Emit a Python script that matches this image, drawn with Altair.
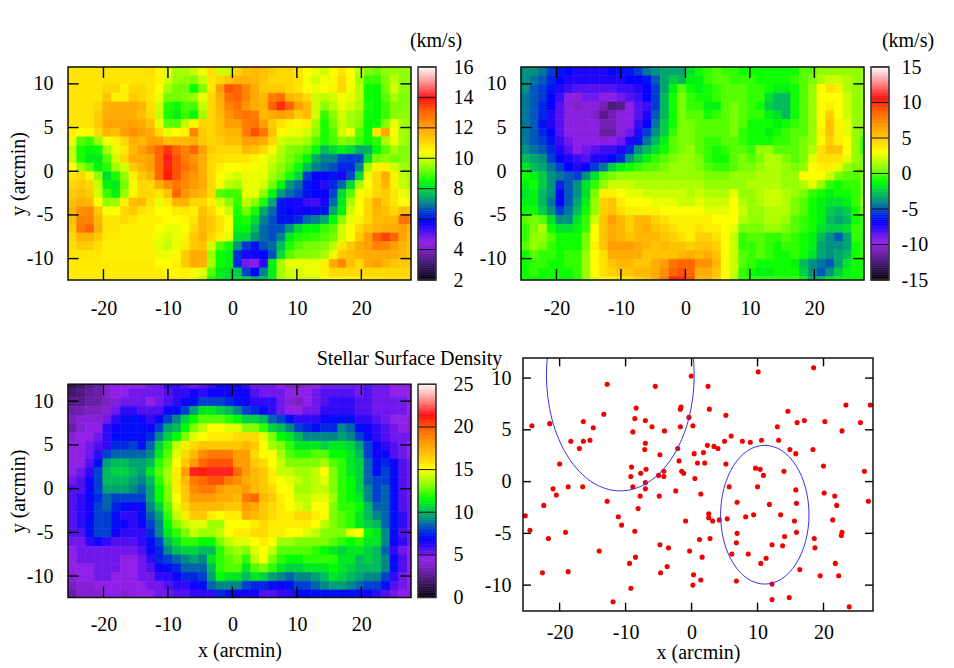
import altair as alt
import numpy as np
import pandas as pd

FONT = "Liberation Serif"
FS = 20

stop_f = [0, .07, .14, .18, .22, .27, .32, .36, .41, .46, .52, .58, .60, .66, .72, .79, .85, .88, .93, 1]
stop_c = ["#0a0410", "#40186a", "#7a20c0", "#9020e8", "#5010f0", "#0000ff", "#0040d0", "#008888", "#00c850",
          "#00ff00", "#80ff00", "#e0ff00", "#ffff00", "#ffc800", "#ff9c00", "#ff6000", "#ff1010", "#ff4040",
          "#ff9898", "#ffffff"]

p1_rows = [
[10.8,10.8,10.8,10.8,10.8,10.8,10.8,10.8,10.8,10.9,10.5,10.2,9.6,9.6,9.9,10.3,10.9,10,9.9,11, 11.4,11.5,11.4,11.2,11,11,10.8,10.4,10.2,10,10.4,10.8,10.4,9.8,9.3,9.1,9.4,9.5,9.4,9.5],
[10.8,10.8,10.8,10.8,10.8,10.8,10.8,10.8,10.8,10.8,10.6,10,9.5,9.4,9.3,9.9,10.8,11,11.3,11.6, 11.6,11.5,11.3,11,11,11,10.9,10.3,10,10.3,10.5,11,10.4,9.6,8.8,8.8,9.3,9.8,9.4,9.4],
[10.8,10.8,10.8,10.8,11,11,10.6,11,11,10.8,10.4,9.6,9.2,9.2,8.5,9.3,10.8,12,13.2,13, 12.4,11.8,11.2,11.2,11.2,11,10.8,10.4,10.2,10.4,10.6,11,10.3,9.8,8.5,8.4,9.2,10,9.4,9.4],
[10.8,10.8,10.8,10.8,11.3,10.6,10.6,11.2,11,10.8,10.2,9.2,9.2,9.3,9.5,10.2,11,11.8,12.8,13, 12.5,11.8,11.5,12.6,12.8,11.6,11.4,11,10,9.8,10,10.3,10.2,9.8,8.5,8.4,9,9.6,9.3,9.3],
[10.8,10.8,10.8,11,11.7,11.8,11.8,11.8,11.6,10.9,10,8.7,8.5,8.9,8.9,9.9,11,11.6,12.5,12.8, 12.2,11.8,11.6,13,13.6,13,12,11.5,10,9.4,9.8,10.2,10,9.7,8.6,8.4,8.8,9.3,9.3,9.4],
[10.8,10.8,10.8,11.2,11.8,11.8,11.8,11.8,11.4,11,9.9,8.6,8.3,8.8,8.4,9.6,11,11.5,12.2,12.6, 12.8,12.6,11.5,11.8,12,11.8,11.2,11.5,10,8.8,9.4,10,9.6,9.4,8.5,8.4,8.8,9.3,9.4,9.4],
[10.8,10.8,10.8,11.2,11.9,11.9,11.9,12,11.8,11.4,10.2,9,9,9.9,10.5,11,11,11.4,12,12, 12.6,12.7,12,11.2,10.8,10.6,10.5,10.6,9.6,8.6,9.2,9.9,9.6,9.3,8.4,8.5,9.3,10.2,9.6,9.4],
[10.6,10.4,10.5,11,11.6,11.4,12,12.3,12,11.8,11,10.2,10.4,10.6,12.5,11.2,11,11.4,11.6,11.6, 12.6,13.2,12.7,11.4,10.5,10.2,10.2,10,9.4,8.6,9,10,10.3,9,8.4,10.8,11.8,10.4,9.6,9.4],
[10.2,9,8.8,9.5,10.3,10.6,11,11.7,11.5,12,12,11.4,11.5,11.5,11.7,11.2,11,11.2,11.4,11.4, 12,12,11.8,11,10,9.8,9.8,9.6,9,8.6,8.9,9.3,9.2,8.8,8.4,8.7,9.6,10.2,9.6,9.4],
[9.8,8.6,8.4,8.5,9.6,10.2,10.8,11.5,12,12.5,13,13.5,13,12.5,13,12,11.2,11,11,11, 11.5,11.4,11,10.5,9.7,9.3,9.2,9,8.5,7.6,8,8.3,8,7.4,7.5,8.4,9,9.6,9.3,9.3],
[9.9,8.6,8.2,8.2,9,10,11,11.8,11.8,12,13,14,13.2,12.6,12.2,11.8,11,10.9,10.8,10.8, 10.8,10.6,10.3,10,9.6,9.2,8.9,8.4,7.4,7,7,6.5,6.4,6.5,8,9.2,9.4,9.2,9.3,9.4],
[10.4,9.5,9,8.3,8.7,9.6,10,11.2,11.6,12,13,13.7,13.2,12.8,12.4,11.8,11,10.6,10.4,10.4, 10.5,10.3,10.2,9.8,9.4,9,8.5,7.6,7,6.8,6.6,6.2,6.2,7,9.6,10.6,10.6,10,9.6,9.4],
[10.8,11,10.6,9.4,8,8.6,9.4,10.6,11.2,11.6,13,13.8,13.2,12.5,12.2,11.8,11,10.4,10.2,10, 10.2,10.2,10.2,9.6,9.2,8.6,7.9,6.4,5.8,5.7,6,5.6,6.5,8,10.2,11,11.8,10.6,9.8,9.6],
[11,11.2,11,9.9,8.3,8.2,9.2,10.3,11,11,11.8,12.3,12.7,12.4,12.1,11.8,11,10.3,9.8,9.6, 10.2,10.2,10,9.2,8.4,7.2,6.8,6,5.7,5.4,6.2,6.8,8,9.6,10.4,11,11.6,10.6,9.9,9.6],
[11.2,11.4,11.2,10,8.8,8.3,9.5,10.5,11,11,10.8,11.4,13,12.2,11.8,11.6,11,9,8.8,8.9, 10.2,10.2,9.4,8.4,7.2,6.8,6.5,6,5.8,5.7,6.5,8,9,10.3,10.6,11,11.2,10.8,10.2,10],
[11.4,11.7,11.5,10.4,9.4,9.5,10.6,11.4,11.5,10.9,10.2,10.8,11.6,11.7,11,11,10.6,10,9.4,8.8, 9.8,9.4,8.6,7.4,6,5.6,5.6,5.3,5.2,5.6,6.8,8.2,9.6,10.4,11,11.8,11.2,10.8,10.4,10.2],
[11.6,12.3,12.4,11.3,10.3,10.4,11,11.2,10.8,10.7,10.4,10.4,10.7,10.8,10.6,11.4,11,10.4,10,8.6, 9.2,8.6,7.4,6.8,6,5.7,5.6,5.7,5.6,6,7.4,8.3,10,10.4,11,11.6,11.4,11,11.4,11.4],
[11.4,12.5,12.5,11.6,10.8,10.8,11,10.8,10.6,10.6,10.6,10.4,10.4,10.5,10.8,11.5,11.2,10.8,10.4,8.5, 8.6,8,7,6.6,6,6,6.2,6.8,7,7.4,8.4,9.4,10.2,10.6,11,11.5,11.5,11.5,12.8,12.6],
[11.2,12.7,13,11.7,10.8,10.8,10.6,10.6,10.6,10.6,10.4,10.2,10.2,10.4,11,11.5,11.2,10.8,10.4,8.3, 8.4,7.6,6.8,6.6,6.6,7.2,8,8.4,8.4,8.8,9,10,10.4,11,11.4,11.6,11.8,11.8,12,11.6],
[11,11.6,11.6,11.2,10.7,10.7,10.6,10.6,10.6,10.6,10.2,10,10.2,10.6,11.2,11.6,11,10.6,10.2,8, 8,7.2,6.8,6.6,7,8.2,8.6,8.7,8.8,9,9.2,10,10.4,11.2,12,13,13.4,13,11.9,11.4],
[10.9,11.2,11.2,10.9,10.6,10.6,10.6,10.6,10.6,10.6,10.1,9.9,10.2,10.7,11.2,11.4,10,9,8.6,7.2, 6.4,6,6.6,6.8,7.6,8.6,9,9.2,9.2,9.3,9.8,10.8,11.2,11.8,12,12.5,12.4,12,11.6,11.4],
[10.8,10.8,10.8,10.8,10.6,10.6,10.6,10.6,10.6,10.6,10.2,10.2,10.5,11.2,11.8,11.8,9.5,8.5,8.3,6.3, 5.6,5.6,5.8,6.6,8,9,9.3,9.3,9.4,9.6,10.2,11.2,11.4,11.6,11.8,11.8,11.8,11.8,11.6,11.4],
[10.7,10.7,10.7,10.7,10.7,10.7,10.7,10.7,10.7,10.7,10.4,10.4,10.6,11.2,11.8,11.7,9.6,8.5,8.3,6.2, 4.8,4.6,5.4,8.3,9.6,10.2,10.2,10.2,10.2,10.6,11.8,12.4,11.4,11,11.8,12,11.6,11.3,11.2,11.2],
[10.7,10.7,10.7,10.7,10.7,10.7,10.7,10.7,10.7,10.7,10.7,10.5,10.5,10.6,10.5,10.2,9,8.2,8.1,7.8, 6.5,5.8,7,8.2,9.6,10,10,10.2,10.2,10.6,11,11,11,11,11,11,11,11,11,11],
[10.7,10.7,10.7,10.7,10.7,10.7,10.7,10.7,10.7,10.7,10.7,10.7,10.6,10.6,10.2,9.8,8.6,8.1,8,8, 7.8,7.4,7.6,8.2,9.6,9.8,10,9.9,9.9,10.3,10.6,10.6,10.7,10.7,10.8,10.8,10.9,10.9,10.9,10.9],
]

p2_rows = [
[-4,-4,-4.5,-5.5,-6.5,-7,-7.5,-7.5,-7.5,-7.5,-7,-6.5,-6.5,-5.5,-4.5,-4,-3.5,-3.5,-3.5,-2, -1,-0.5,0,-0.5,-0.5,-1,-1,-1,-1,-1,-1,-1,0,0,1,1,1,1,1,1],
[-4,-4.5,-5,-6,-7,-7.5,-7.5,-7.5,-7.5,-7.5,-7.5,-7.5,-7,-7,-6.5,-5,-3.5,-2.5,-3,-1.5, -1.5,-0.5,0,0,-0.5,-0.5,-0.5,-1,-1,-1,-1,-0.5,0,0.5,1.5,2,2,1.5,1,1],
[-4,-5,-5.5,-6.5,-7.5,-8,-8.5,-8.5,-8.5,-8.5,-8.5,-8,-8,-7.5,-7,-5.5,-3.5,-1.5,0,-1, -1.5,-1,-0.5,0,0,0,-0.5,-0.5,-1,-1.5,-1.5,-1,0,1,3,4,3.5,1.5,1,1],
[-4.5,-5,-5.5,-7,-8,-9.5,-10,-9,-9,-9.5,-9.5,-9,-8.5,-8,-7,-5.5,-3,-1,0.5,-0.5, -1,-1,-0.5,0,0,0,-0.5,-0.5,-2,-3,-3,-1,0,1,3,3,3,2,1,1],
[-4.5,-5,-6,-7,-8.5,-10,-10.5,-10,-10,-11,-12.5,-12,-9.5,-8.5,-8,-5.5,-3,-1,0.5,-0.5, -0.5,-1.5,-1.5,0,0.5,0,-0.5,-1,-2.5,-3,-3,-1,0,1,3,3.5,3,2,1,1],
[-4.5,-5,-6,-7.5,-8.5,-10,-10,-10,-10.5,-12,-11,-10,-9.5,-8.5,-7.5,-5,-3,-1,0.5,0, 0,-1,-0.5,0,0.5,0,-0.5,-0.5,-1.5,-2,-3,-1,0,1,3,4.5,3,2,1,1],
[-4.5,-5,-6.5,-7.5,-8.5,-10,-10,-10,-10,-11,-11,-10,-9.5,-8,-7,-4.5,-2.5,-1,0.5,0.5, 0,0,0,0,0.5,0,-1,-1,-1,-1.5,-1,-0.5,0,1,3,5,3.5,2.5,1,1],
[-4.5,-5,-6,-7,-8.5,-9.5,-10,-10,-10,-11.5,-11.5,-10,-9,-7.5,-5.5,-4,-2.5,-0.5,0.5,0.5, 0,0,0,0,0.5,-0.5,-1,-1,-1.5,-1,-0.5,0,0,1,3.5,5,3.5,2.5,1,0.5],
[-4.5,-5,-5.5,-6.5,-8,-9,-9.5,-9.5,-9.5,-10,-9.5,-9,-7.5,-6.5,-4.5,-3,-1.5,0,0.5,0.5, 0,-0.5,-0.5,0,0,-0.5,-1,-1,-1,-0.5,-0.5,0,0.5,1,3,4.5,3.5,3,1,-0.5],
[-4,-4.5,-5,-6,-7.5,-8.5,-9.5,-9,-8.5,-8,-8,-7.5,-6,-4,-3,-2,-1,0,0.5,1, 0,-0.5,-1,-0.5,0,0,-0.5,1,1,0,0,0,0.5,1.5,4,5,5,3,1,-0.5],
[-3,-3.5,-4,-5.5,-7,-7.5,-8,-8.5,-7.5,-7.5,-7,-6,-4,-2.5,-1.5,-0.5,0,0.5,1,1, 0.5,-0.5,-1,-1,0,0.5,0,0.5,1.5,1.5,0.5,0,0.5,2.5,4,4,4,2.5,1,0.5],
[-2,-3,-3.5,-4.5,-5.5,-7,-7.5,-7,-5.5,-4.5,-2.5,-1.5,-1,-0.5,0,0,0.5,1,1,1, 0.5,0,-0.5,-0.5,0,0.5,0.5,1,1.5,1.5,1,0.5,1,3,3.5,3.5,2.5,1,0.5,0.5],
[-1,-1.5,-2.5,-4,-4.5,-5,-5.5,-4,-2,0,0.5,1,1,1,1,1,1,1,1,1, 1,0.5,0.5,0.5,1,1,1,1.5,1.5,1.5,1,1,3,3,3,2,0.5,0,0,0.5],
[-1.5,-1,-2.5,-4,-6,-5,-4,-2,-0.5,1,2,2,2,1.5,1.5,1.5,1.5,1.5,1.5,1.5, 1.5,1,1,1,1,1,1.5,1.5,1.5,1.5,1,1,1.5,2.5,1,-0.5,-1,-0.5,-0.5,0.5],
[-2,-1.5,-3,-4,-7,-5,-4,-2,0.5,3.5,3.5,3,2.5,2.5,2,2,2,2,2,1.5, 2,1.5,1.5,1.5,2.5,1,1,1.5,2,2,1.5,1,0.5,-0.5,-1,-1.5,-1,-1,-0.5,0.5],
[-1.5,-1.5,-3,-4.5,-7,-5,-3.5,-1.5,1,4.5,5,3.5,3,3,3,2.5,2.5,2.5,2,2, 2.5,2,2,2,3,1.5,1,1.5,2,2,1.5,0.5,0,-1,-1.5,-2,-2,-1.5,-0.5,1],
[-1,-1,-2.5,-4,-5.5,-4.5,-3,-1,1,4.5,5,4,3.5,3.5,3.5,3.5,3,3,3,3, 3,2.5,2.5,2.5,3,2,1,1,1.5,1.5,1.5,0.5,0,-1,-1.5,-2.5,-3,-2.5,-1,0.5],
[0,0.5,0,-2,-4,-4,-2,-0.5,2,5,6.5,5.5,4.5,5.5,5.5,4.5,4,3.5,3.5,3.5, 3.5,3.5,3,3,3,1.5,1,1,1.5,1.5,1,0,-0.5,-1,-1.5,-3,-3.5,-3,-1,-0.5],
[-0.5,0.5,1.5,-1,-2,-2,-1.5,-0.5,3,5,6,5.5,4.5,5.5,6,5,4.5,4,3.5,3.5, 4,3.5,3.5,3,2.5,0.5,0.5,0.5,1,1,0.5,0,-0.5,-1,-2,-2.5,-2.5,-2,-0.5,-0.5],
[-0.5,1,1,0,-1,-1,-1,0.5,3,5,6,5.5,5,5.5,5.5,5.5,5,4.5,4,3.5, 4.5,4.5,4,3,2,-0.5,0,0,-0.5,-0.5,0,-0.5,-1,-1.5,-3,-4,-5,-3.5,-0.5,-0.5],
[0,1,0.5,-0.5,-1,-1,-1,0.5,3.5,5,6.5,6.5,6.5,6,5.5,5,5.5,5,5,4.5, 5,5,4.5,3,2,-0.5,-0.5,0,-0.5,-1,-0.5,-0.5,-1,-1.5,-3.5,-4,-4,-3.5,-1,-0.5],
[-1,0,-0.5,-0.5,-1,-0.5,-0.5,1,3,4,6,6,6,6,5,5,5,5,5.5,6, 5.5,6,5,3,2,0,-0.5,0,-0.5,-1,-1,-0.5,-1,-2,-3.5,-4,-3.5,-3,-1,-0.5],
[-1,-0.5,-0.5,-1,-1,-0.5,-0.5,1,3,4,5,5.5,5.5,5,5,6,6.5,8,8.5,8.5, 7,7,5.5,3,2,0,-0.5,-1,-1,-1,-1,-1.5,-3,-4,-4.5,-5,-3.5,-2,-1,-1],
[-1,-0.5,-1,-1,-1,-1,-0.5,1,3,4,4.5,5,5,5.5,5.5,6,7,8.5,9,8.5, 6,6,5,3,2,-0.5,-1,-1.5,-1.5,-1,-1,-1,-2.5,-4,-5,-4,-2.5,-1.5,-1,-1],
[-1,-1,-1,-1,-1,-1,-0.5,1,2.5,3.5,3.5,4,4,4.5,5,6,7.5,10,11,9, 5.5,5.5,4.5,3,1.5,-0.5,-0.5,-0.5,-0.5,-0.5,-0.5,-0.5,-1.5,-3.5,-3,-2,-1.5,-1,-1,-1],
]

p3_rows = [
[1.5,1.8,2.5,3,4,4.5,4.5,4.5,4.5,5,5,6,6,5.5,5,5.5,6,6.5,6.5,6.5, 6,5,5,5,4.5,3.5,3.5,4,4.5,5,5,5,5,5,5.5,5,5,4.5,4.5,4.5],
[1.8,2.2,2.8,3,4,4.5,4.5,5,5,5,5,5.5,6,6,6.5,6,6.5,6.5,6.5,6.5, 6.5,5.5,5,5,5,4.5,4.5,4.5,5,5.5,5.5,5.5,5.5,5,5.5,5,5,4.5,4.5,4.5],
[2.5,2.5,3,3,3.5,4,5,5,5,4.5,5,5.5,6,6.5,7,8,8,8,7.5,7, 6.5,6,6,6,5,4,3.5,4.5,5,5.5,6,6,6,5.5,5.5,5,5,5,5,4.5],
[3,3.2,3.5,3.5,4,5,6,6,5.5,5.5,5.5,6.5,7,8,9.5,11,11,10.5,10,9, 8,7.5,6.5,6,5,4.5,4.5,5,5,6,6,6,6,5.5,5.5,5,5,5,5,4.5],
[3.5,4,4,4,5,6,7,7,6.5,6,6.5,8,9,10.5,11.5,12.5,12.5,12.5,12,11.5, 10.5,10.5,10,8.5,8,7,6,6,6,6.5,7,7,7,6,6,5.5,5,4.5,4.5,4],
[3,4,4.5,4.5,6,6.5,7,7,7,6.5,8,9.5,10,11.5,13,14,15,15,14.5,14.5, 13,13,12,10.5,10,9,8,7.5,7,7.5,7.5,9,8.5,7,6.5,6,5.5,5,4.5,4],
[4,4.5,4.5,5,6,7,7,7,7,7.5,9,10.5,11.5,13,14.5,15,15.5,15.5,15.5,16, 16,16,14.5,13,11.5,11,10,9,9,9,9,9.5,9,8,7,6,5.5,5,5,5],
[4.5,4.5,5,5.5,6,7.5,7.5,8,7,8.5,10.5,12,14,15.5,16,16.5,16.5,16.5,16.5,16.5, 17,16.5,15,13.5,13,12,11,11,11,10.5,11,11,10.5,9.5,8,6.5,6,5.5,5,4.5],
[4.5,4.5,5,6,8,8.5,8.5,8.5,8.5,9,11,12.5,14.5,16,17,18.5,19,19,19,18, 18,16,15,15,13.5,12.5,12,12,12.5,12.5,11.5,11.5,11,10,8,6.5,6.5,5.5,5,4.5],
[4.5,4.5,5.5,7,9.5,10,10,9.5,9.5,10,12,13,15,16.5,18,19.5,20,20,20,18, 18,16.5,16,15,14,13,13,13,13,13.5,12.5,12,11,10.5,8.5,7,7.5,6.5,5.5,5],
[4.5,5,6,8,10,10.5,10.5,10,9.5,11,12.5,13.5,15.5,18,21.5,21,21.5,21.5,21.5,19.5, 18,17,16.5,15.5,14,14,13.5,13.5,14,15,13,12,11,10.5,8.5,7,8,7,5.5,5],
[5,5.5,6.5,8,10,10,10,9.5,9,10,12,13.5,15.5,17,19,19.5,20,20,19,18.5, 17.5,17,16.5,15.5,15,14.5,14,13.5,14,14.5,13,12,11.5,10.5,8.5,8,8,7,5.5,5],
[5.5,5.5,6.5,8,9.5,9.5,9.5,9,8.5,9.5,11.5,13,15.5,16.5,18.5,19,19,18,17.5,17.5, 18,17,16.5,16,15,15,13.5,13.5,14,14,13,12,11.5,10.5,9,8,8.5,7,5.5,5],
[5.5,6,6.5,7.5,8.5,8,8,8,8,9.5,11.5,13,15,16.5,18,18,18,17.5,17.5,17, 19,19.5,17,16.5,15.5,15,14,14,14.5,14.5,13.5,12,11.5,11,9,8,8.5,7,5.5,5],
[5.5,6,6.5,8,8.5,7.5,7,6.5,7,9,10.5,12.5,14.5,16,17,17,17,17,16.5,16.5, 18,17.5,16.5,16,15.5,15,14.5,14,15,15,13,12,12,11.5,10,8.5,8.5,7,5.5,5],
[5.5,6,6.5,8,8,7,6,6,7,8.5,9.5,12,14,15.5,16.5,16.5,15.5,15,15.5,15.5, 17.5,17,16.5,16,15.5,15.5,16,16,15.5,15,13,12.5,12,11,10,9,8.5,7,6,5],
[5.5,6,7,8,8,7,6.5,6,6.5,8,9,11.5,13,14,14.5,14.5,13.5,13.5,15,15, 15,15.5,16,15.5,15.5,15.5,15.5,15.5,15,14,13,12.5,12,11,10.5,10,8.5,7,6,5],
[5.5,5.5,7,8,8,6.5,6,6,6,7.5,9,11,12,13,14,13.5,13.5,14,15,15.5, 15.5,16,16,15.5,15.5,15,15,14.5,14,13,13,13,14.5,15,11.5,11,9,7,5.5,5],
[5,5,6,6.5,6,5.5,5.5,5.5,6,7,8,10,11,12,12,11.5,11.5,13,14,14.5, 14.5,15,15.5,15,13.5,13.5,13,13,13,13,12.5,12,11.5,12,11,11,9,6.5,6,5],
[4.5,5,5,5,5,5,5,5,5.5,6.5,7.5,9,10,10.5,10.5,10,10,12,13,13.5, 13,14.5,15,14,12.5,12.5,12.5,12.5,12,11.5,11,10.5,11,11,10.5,10,8.5,6,5,4.5],
[4.5,5,5,5,5,5,4.5,4.5,5,6,7.5,8,8.5,9,9.5,9,11,12,12.5,13, 12,14,15,13,12,11.5,11.5,12,12,12,12,11,11,10,10.5,10,9,6.5,5.5,4.5],
[4.5,4.5,4.5,5,5,5,4.5,4.5,5,5.5,6.5,7,7.5,8.5,8.5,8.5,10,12,12.5,12.5, 11,12.5,13,12,11,10.5,10.5,11,11,11,11.5,11,10.5,10,10,10,9,7,5.5,4.5],
[4,4.5,4.5,5,5,4.5,4.5,4.5,5,5,6,6,6.5,7.5,7.5,8,9.5,11.5,11,11, 10,11,10.5,9.5,9,8.5,9,9,9.5,10,11,10.5,10,9.5,9,9,8,6,5,4.5],
[3.5,4,4,4.5,4.5,4.5,4.5,4.5,4.5,5,5,5.5,6,6,6.5,7,8.5,9,9,9, 8,7.5,7.5,7,6.5,7,8,8,8.5,9,9.5,9.5,9,8.5,8,8,7,5.5,5,4.5],
[3,4,4,4,4.5,4.5,4,4.5,4.5,4.5,5,5,5.5,5.5,6,6,6,7.5,7,6.5, 6.5,6.5,5.5,5.5,6,6,7,7,7,7,7,7,7,6.5,6.5,6,5.5,5,4.5,4],
[3,3.5,4,4.5,4.5,4.5,4.5,4.5,4.5,5,5,5,6,6,6,5.5,5.5,6,6,6, 6,5.5,5,4.5,5,5,6,5.5,5,5,5.5,6,6,6,6,5.5,5,5,4.5,4],
]

star_x = [-24.2,-25.2,-24.5,-21.5,-18.3,-17,-16.4,-16.4,-15.4,-14.9,-13.3,-12.8,-20,-21,-20.5,-22.4,-18.7,-16.5,-12.8,-19.1,-21.7,-22.6,-18.7,-14,-11.1,-10.6,-11.9,-9.2,-9.4,-8.5,-8.6,-8.1,-7.8,-8.9,-9.2,-9.1,-7.7,-6.9,-7,-7,-7.1,-7,-8.9,-8.6,-8.4,-7,-6,-4.8,-5.5,-4.1,-5,-4.2,-4.2,-4.9,-2.4,-1.9,-2.1,-1.5,-1.2,-1.7,-1.7,-1.6,-0.4,-0.05,0.2,0.4,0.5,0.9,2,1.8,2.4,3.4,4,2.5,2.7,5,5.2,6,5.2,5.7,1.4,2.6,2.6,3.2,4.2,-0.9,5.4,6.9,8.2,9.4,6.9,6.8,6.1,2.8,1.2,-0.3,1.6,-4.8,-3.5,-3.7,-4.7,0.3,0.2,1.4,6.8,8.6,10.5,11.3,12.2,13.8,14.1,13.5,11.8,15.9,15.8,15.6,15.9,16.4,12.2,12.2,14.8,10,10.9,10.4,9.7,14,7.7,8.9,10.6,13.2,13,14.9,15.8,10.1,14.6,16,17.1,18.4,18.5,20.2,20,20.1,21.7,22,21.4,22.8,22.7,18.6,18.7,21.8,19.5,22.3,23.9,22.8,23.4,25.6,26.2,26.8,27.1]
star_y = [5.4,-3.3,-4.7,5.6,3.9,3.2,5.8,3.9,4,5.2,6.5,9.4,1.7,-0.7,-1.3,-2.3,-0.5,-0.5,-1.9,-4.9,-5.5,-8.8,-8.7,-6.7,-3.4,-4.2,-11.6,-10.3,-7.9,-7.3,-4.8,-2.6,-1.4,-0.5,0.5,1.4,0.8,1.2,-0.1,-0.7,3.1,3.7,4.8,6.1,7.1,5.9,5.3,2.6,9.2,4.9,0.6,1,0.5,-1.4,-0.9,2,3.2,1,0.8,5.3,7,7.2,6.2,10.2,5.4,2.7,0.3,1.8,1.8,2.8,3.5,3.4,3.2,9.2,7,3.9,6.4,4.4,1.7,-0.5,-1.2,-3.1,-3.5,-3.8,-3.7,-3.8,-3.6,-2,-3.4,-3.2,-5,-5.9,-7,-5.5,-5.6,-6.7,-7.3,-6.1,-6.4,-8.2,-8.8,-9,-10,-9.5,-9.6,-7,-7.9,-7.4,-6.1,-6.2,-5.3,-3.2,-2.2,-2.1,-0.8,-3.8,-4.9,-8.5,-9.9,-11.4,-11.2,-0.5,0.6,1.2,1.3,1,3.9,3.8,4,4,5.3,3.1,2.7,10.6,6.8,5.7,5.9,3.1,11,5.8,1.5,-1.1,-1.4,-2.3,-3.7,-4.9,-5.2,-5.5,-6.4,-7.9,-9.1,-9.1,-12.1,4.9,7.4,5.7,1,-1.9,7.4]

ell1_x = [0.4,-0.45,-2.88,-6.51,-10.8,-15.09,-18.72,-21.15,-22,-21.15,-18.72,-15.09,-10.8,-6.51,-2.88,-0.45]
ell1_y = [10.3,14.59,18.22,20.65,21.5,20.65,18.22,14.59,10.3,6.01,2.38,-0.05,-0.9,-0.05,2.38,6.01]
ell2_x = [17.8,17.29,15.84,13.67,11.1,8.53,6.36,4.91,4.4,4.91,6.36,8.53,11.1,13.67,15.84,17.29]
ell2_y = [-3.2,-0.64,1.54,3.0,3.5,3.0,1.54,-0.64,-3.2,-5.76,-7.94,-9.39,-9.9,-9.39,-7.94,-5.76]

x_ticks = [-20, -10, 0, 10, 20]
y_ticks = [-10, -5, 0, 5, 10]
XD = [-25.5, 27.7]
YD = [-12.45, 11.93]

MINUS = "replace(datum.label, '\u2212', '-')"
PLUS = "(datum.value < 0 ? '-' + abs(datum.value) : '\u00a0' + datum.value)"


def ax(**kw):
    base = dict(ticks=False, domain=False, grid=False, labelFont=FONT, labelFontSize=FS, labelColor="black",
                titleFont=FONT, titleFontSize=FS, titleFontWeight="normal", titleColor="black", labelFlush=False,
                labelOverlap=False, labelExpr=MINUS)
    base.update(kw)
    return alt.Axis(**base)


def grid_df(rows, x0, dx, y0, dy):
    recs = []
    for j, r in enumerate(rows):
        for i, v in enumerate(r):
            top = min(y0 - j * dy, YD[1])
            bot = max(y0 - (j + 1) * dy, YD[0])
            if top > bot:
                recs.append(dict(a=x0 + i * dx, b=min(x0 + (i + 1) * dx, XD[1]), c=top, d=bot, v=v))
    return pd.DataFrame(recs)


def tick_df(xd, yd, lx, ly):
    recs = []
    for t in x_ticks:
        recs.append(dict(a=t, b=t, c=yd[0], d=yd[0] + ly))
        recs.append(dict(a=t, b=t, c=yd[1], d=yd[1] - ly))
    for t in y_ticks:
        recs.append(dict(a=xd[0], b=xd[0] + lx, c=t, d=t))
        recs.append(dict(a=xd[1], b=xd[1] - lx, c=t, d=t))
    return pd.DataFrame(recs)


def frame_layers(xs, ys, xd, yd, lx, ly, xax, yax):
    fr = pd.DataFrame([dict(a=xd[0], b=xd[1], c=yd[0], d=yd[1])])
    enc = dict(x=alt.X("a:Q", scale=xs, axis=xax), x2="b:Q", y=alt.Y("c:Q", scale=ys, axis=yax), y2="d:Q")
    return [
        alt.Chart(tick_df(xd, yd, lx, ly)).mark_rule(color="black", strokeWidth=1.4).encode(**enc),
        alt.Chart(fr).mark_rect(fillOpacity=0, stroke="#111111", strokeWidth=1.5).encode(**enc),
    ]


def heat(rows, vd, y0, yrange=None, xax=None, yax=None, h=213, w=343):
    xs = alt.Scale(domain=XD, nice=False, zero=False)
    ykw = dict(domain=YD, nice=False, zero=False)
    if yrange:
        ykw["range"] = yrange
    ys = alt.Scale(**ykw)
    cs = alt.Scale(domain=[vd[0] + f * (vd[1] - vd[0]) for f in stop_f], range=stop_c, interpolate="rgb", clamp=True)
    df = grid_df(rows, XD[0], 1.35, y0, 1.0)
    cells = alt.Chart(df).mark_rect(strokeWidth=0.6).encode(
        x=alt.X("a:Q", scale=xs, axis=xax),
        x2="b:Q",
        y=alt.Y("c:Q", scale=ys, axis=yax),
        y2="d:Q",
        color=alt.Color("v:Q", scale=cs, legend=None),
        stroke=alt.Stroke("v:Q", scale=cs, legend=None),
    )
    return [cells] + frame_layers(xs, ys, XD, YD, 1.65, 1.25, xax, yax), w, h


def colorbar(vd, ticks, yrange=None, label_pad=17, expr=MINUS, xoff=0):
    ykw = dict(domain=vd, nice=False, zero=False)
    if yrange:
        ykw["range"] = yrange
    ys = alt.Scale(**ykw)
    cs = alt.Scale(domain=[vd[0] + f * (vd[1] - vd[0]) for f in stop_f], range=stop_c, interpolate="rgb")
    yax = ax(orient="right", values=ticks, title=None, labelAlign="left", labelPadding=label_pad, labelExpr=expr)
    lv = np.linspace(vd[0], vd[1], 121)
    df = pd.DataFrame({"v": lv[:-1], "w": lv[1:]})
    bar = alt.Chart(df).mark_rect(strokeWidth=0.6).encode(
        x=alt.value(xoff), x2=alt.value(xoff + 18),
        y=alt.Y("v:Q", scale=ys, axis=yax),
        y2="w:Q",
        color=alt.Color("v:Q", scale=cs, legend=None),
        stroke=alt.Stroke("v:Q", scale=cs, legend=None),
    )
    tk = alt.Chart(pd.DataFrame({"t": ticks})).mark_rule(color="#111111", strokeWidth=1).encode(
        x=alt.value(xoff), x2=alt.value(xoff + 18), y=alt.Y("t:Q", scale=ys, axis=yax))
    fr = alt.Chart(pd.DataFrame([dict(c=vd[0], d=vd[1])])).mark_rect(fillOpacity=0, stroke="#333333", strokeWidth=1.5).encode(
        x=alt.value(xoff), x2=alt.value(xoff + 18), y=alt.Y("c:Q", scale=ys, axis=yax), y2="d:Q")
    return [bar, tk, fr]


def label(txt, px, py):
    return alt.Chart(pd.DataFrame({"s": [txt]})).mark_text(font=FONT, fontSize=FS, color="black", align="center",
                                                          baseline="middle").encode(
        x=alt.value(px), y=alt.value(py), text="s:N")


def spacer(w, h):
    return alt.Chart(pd.DataFrame({"a": [0]})).mark_rect(opacity=0).encode(x=alt.value(0)).properties(width=w, height=h)


# top row
xax_top = ax(values=x_ticks, title=None, labelPadding=18)
yax_t = ax(values=y_ticks, title="y (arcmin)", labelPadding=15, titlePadding=-2)
yax_n = ax(values=y_ticks, title=None, labelPadding=15)

l1, w1, h1 = heat(p1_rows, [2, 16], 11.93, xax=xax_top, yax=yax_t)
p1 = alt.layer(*l1).properties(width=w1, height=h1)
cb1 = alt.layer(*colorbar([2, 16], [2, 4, 6, 8, 10, 12, 14, 16]), label("(km/s)", 18, -26)).properties(width=18, height=213)
l2, w2, h2 = heat(p2_rows, [-15, 15], 11.93, xax=xax_top, yax=yax_n)
p2 = alt.layer(*l2).properties(width=w2, height=h2)
cb2 = alt.layer(*colorbar([-15, 15], [-15, -10, -5, 0, 5, 10, 15], label_pad=3, expr=PLUS, xoff=-9),
                label("(km/s)", 28, -26)).properties(width=18, height=213)

# bottom row
RNG3 = [239.5, 26.3]
l3, w3, h3 = heat(p3_rows, [0, 25], 12.41, yrange=RNG3,
                  xax=ax(values=x_ticks, title="x (arcmin)", labelPadding=17, offset=-13.5, titlePadding=6),
                  yax=yax_t, h=253)
p3 = alt.layer(*l3, label("Stellar Surface Density", 341.5, 1)).properties(width=w3, height=h3)
cb3 = alt.layer(*colorbar([0, 25], [0, 5, 10, 15, 20, 25], yrange=RNG3)).properties(width=18, height=253)

XD4 = [-25.55, 27.5]
YD4 = [-12.5, 11.94]
xs4 = alt.Scale(domain=XD4, nice=False, zero=False, range=[2, 352])
ys4 = alt.Scale(domain=YD4, nice=False, zero=False)
xax4 = ax(values=x_ticks, title="x (arcmin)", labelPadding=11, titlePadding=0)
yax4 = ax(values=y_ticks, title=None, labelPadding=10)
stars = alt.Chart(pd.DataFrame({"a": star_x, "c": star_y})).mark_circle(size=26, color="#f00000", opacity=1, clip=True).encode(
    x=alt.X("a:Q", scale=xs4, axis=xax4),
    y=alt.Y("c:Q", scale=ys4, axis=yax4),
)


def outline(xv, yv):
    d = pd.DataFrame({"a": xv, "c": yv, "o": range(len(xv))})
    return alt.Chart(d).mark_line(color="#3434e8", strokeWidth=1, clip=True, interpolate="cardinal-closed").encode(
        x=alt.X("a:Q", scale=xs4, axis=xax4), y=alt.Y("c:Q", scale=ys4, axis=yax4), order="o:Q")


p4 = alt.layer(stars, outline(ell1_x, ell1_y), outline(ell2_x, ell2_y),
               *frame_layers(xs4, ys4, XD4, YD4, 1.2, 0.8, xax4, yax4)).properties(width=352, height=253)

chart = alt.concat(p1, cb1, spacer(71, 213), p2, cb2, p3, cb3, spacer(71, 253), p4,
                   columns=5, spacing={"row": 78, "column": 7}, align="none", bounds="flush"
                   ).resolve_scale(color="independent", stroke="independent"
                   ).properties(padding={"left": 0, "top": 23, "right": 5, "bottom": 5}
                   ).configure_view(stroke=None)

chart.save("out.html", embed_options={"renderer": "svg", "actions": False})
